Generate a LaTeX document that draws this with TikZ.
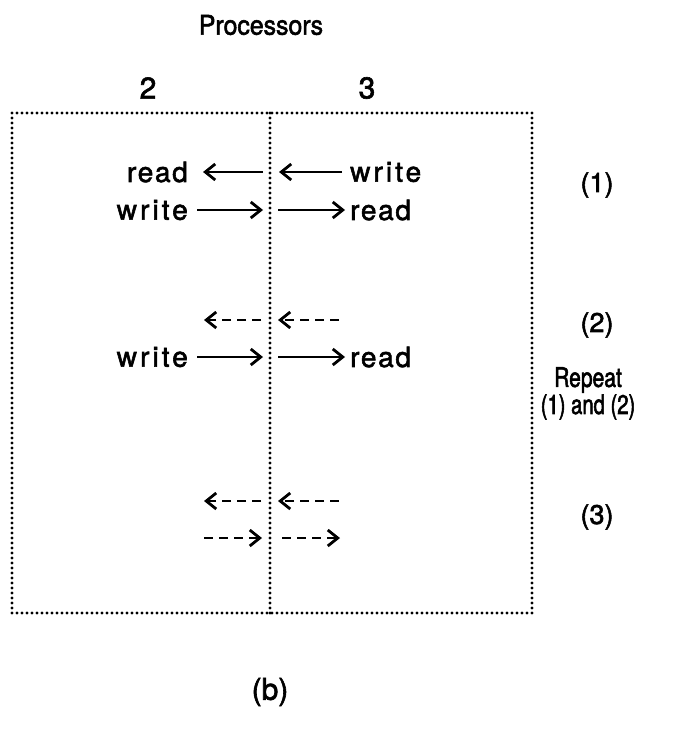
\documentclass[tikz,border=0pt]{standalone}
\usepackage{fontspec}
\setmainfont{TeX Gyre Heros}[FakeBold=2]
\usetikzlibrary{arrows.meta}
\newcommand{\lsp}[1]{\addfontfeatures{LetterSpace=#1}}
\newcommand{\lst}[1]{\addfontfeatures{FakeStretch=#1}}
\begin{document}
\begin{tikzpicture}[x=1pt,y=-1pt,
  lbl/.style={font=\fontsize{28}{32}\selectfont, inner sep=0pt},
  side/.style={font=\fontsize{27}{31}\selectfont, inner sep=0pt},
  big/.style={font=\fontsize{30}{34}\selectfont, inner sep=0pt},
  dotline/.style={line width=3.1pt, line cap=round, dash pattern=on 0pt off 5pt},
  arr/.style={line width=2.8pt, -{Straight Barb[length=10pt,width=16pt,line width=2.8pt]}},
  darr/.style={arr, dash pattern=on 9pt off 6pt}]
\useasboundingbox (0,0) rectangle (688,741);
% frame
\coordinate (tl) at (12,113);
\coordinate (br) at (532,613);
\coordinate (mt) at (270,113);
\coordinate (mb) at (270,613);
\draw[dotline] (tl) rectangle (br);
\draw[dotline] (mt) -- (mb);
% headings
\node[side] (proc) at (261,25) {\lst{0.92}Processors};
\node[big] (p2) at (148,88) {2};
\node[big] (p3) at (367,88) {3};
% row 1
\node[lbl, anchor=east] (r1a) at (188,172) {\lsp{6}read};
\node[lbl, anchor=west] (r1b) at (350,172) {\lsp{11}write};
\coordinate (r1m1) at (263,172);
\coordinate (r1e1) at (203,172);
\coordinate (r1m2) at (342,172);
\coordinate (r1e2) at (279,172);
\draw[arr] (r1m1) -- (r1e1);
\draw[arr] (r1m2) -- (r1e2);
% row 2
\node[lbl, anchor=east] (r2a) at (188,210) {\lsp{11}write};
\node[lbl, anchor=west] (r2b) at (350,210) {\lsp{6}read};
\coordinate (r2s1) at (197,210);
\coordinate (r2e1) at (263,210);
\coordinate (r2s2) at (278,210);
\coordinate (r2e2) at (345,210);
\draw[arr] (r2s1) -- (r2e1);
\draw[arr] (r2s2) -- (r2e2);
% row 3 (dashed)
\coordinate (r3s1) at (261,320);
\coordinate (r3e1) at (204,320);
\coordinate (r3s2) at (339,320);
\coordinate (r3e2) at (278,320);
\draw[darr] (r3s1) -- (r3e1);
\draw[darr] (r3s2) -- (r3e2);
% row 4
\node[lbl, anchor=east] (r4a) at (188,357) {\lsp{11}write};
\node[lbl, anchor=west] (r4b) at (350,357) {\lsp{6}read};
\coordinate (r4s1) at (197,357);
\coordinate (r4e1) at (263,357);
\coordinate (r4s2) at (278,357);
\coordinate (r4e2) at (345,357);
\draw[arr] (r4s1) -- (r4e1);
\draw[arr] (r4s2) -- (r4e2);
% row 5 (dashed)
\coordinate (r5s1) at (261,501);
\coordinate (r5e1) at (204,501);
\coordinate (r5s2) at (339,501);
\coordinate (r5e2) at (278,501);
\draw[darr] (r5s1) -- (r5e1);
\draw[darr] (r5s2) -- (r5e2);
% row 6 (dashed)
\coordinate (r6s1) at (204,538);
\coordinate (r6e1) at (262,538);
\coordinate (r6s2) at (282,538);
\coordinate (r6e2) at (340,538);
\draw[darr] (r6s1) -- (r6e1);
\draw[darr] (r6s2) -- (r6e2);
% right labels
\node[side] (s1) at (597,185) {(1)};
\node[side] (s2) at (597,325) {(2)};
\node[side] (rep) at (588,380) {\lst{0.78}Repeat};
\node[side] (rep2) at (588,407) {\lst{0.75}(1) and (2)};
\node[side] (s3) at (597,517) {(3)};
% caption
\node[big] (cap) at (270,692) {(b)};
\end{tikzpicture}
\end{document}
